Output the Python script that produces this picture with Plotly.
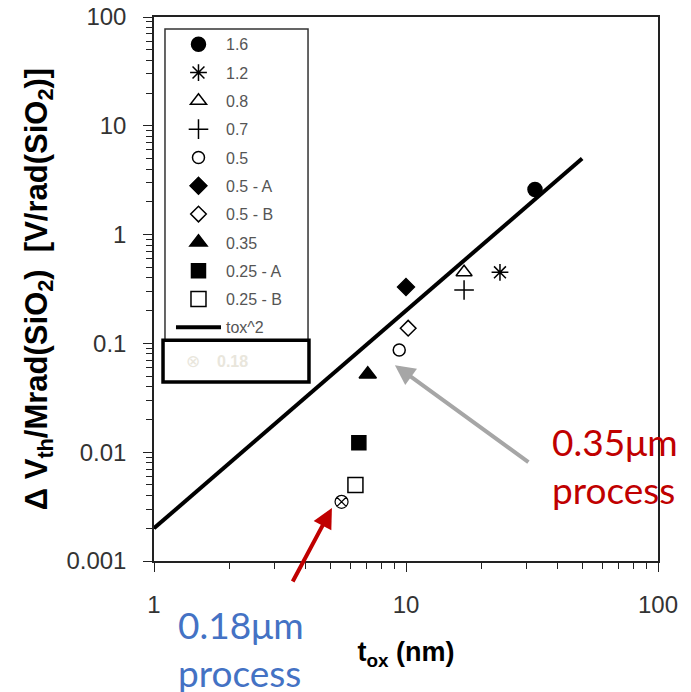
import plotly.graph_objects as go

# ---- data ----
series_names = ["1.6", "1.2", "0.8", "0.7", "0.5", "0.5 - A", "0.5 - B", "0.35", "0.25 - A", "0.25 - B"]
tox_nm = [32.5, 23.6, 17.0, 17.0, 9.4, 10.0, 10.2, 7.05, 6.5, 6.3]
dvth = [2.6, 0.45, 0.45, 0.31, 0.087, 0.33, 0.138, 0.052, 0.0122, 0.005]
symbols = ["circle", "asterisk-open", "triangle-up-open", "cross-thin-open", "circle-open",
           "diamond", "diamond-open", "triangle-up", "square", "square-open"]
sizes = [14, 14, 14, 14, 12, 13, 12, 15, 14, 15]

p018_tox = [5.55]
p018_dvth = [0.0035]

fit_tox = [1, 50]
fit_dvth = [0.002, 5.0]

x_ticks = [1, 10, 100]
y_ticks = [0.001, 0.01, 0.1, 1, 10, 100]
y_ticklabels = ["0.001", "0.01", "0.1", "1", "10", "100"]

fig = go.Figure()

for i, name in enumerate(series_names):
    fig.add_trace(go.Scatter(
        x=[tox_nm[i]], y=[dvth[i]], mode="markers", name=name,
        legendgroup=name,
        marker=dict(symbol=symbols[i], size=sizes[i], color="black",
                    line=dict(color="black", width=1.5)),
    ))

fig.add_trace(go.Scatter(
    x=fit_tox, y=fit_dvth, mode="lines", name="tox^2", legendgroup="fit",
    line=dict(color="black", width=4),
))

fig.add_trace(go.Scatter(
    x=p018_tox, y=p018_dvth, mode="markers", name="0.18", showlegend=False,
    marker=dict(symbol="circle-x-open", size=13, color="black", line=dict(color="black", width=1.2)),
))

axis_common = dict(
    type="log", showline=True, linecolor="#222", linewidth=1.5, mirror=True,
    ticks="outside", ticklen=9, tickwidth=1.2, tickcolor="#222",
    showgrid=False, zeroline=False, automargin=False, ticklabeloverflow="allow",
    tickfont=dict(family="Liberation Sans, Arial", size=24, color="#333"),
    minor=dict(ticks="outside", ticklen=6, tickwidth=1, tickcolor="#222", showgrid=False, dtick="D1"),
)

fig.update_xaxes(range=[0, 2], tickvals=x_ticks, ticktext=[str(v) for v in x_ticks],
                 ticklabelstandoff=12,
                 title=dict(text="<b>t<sub>ox</sub> (nm)</b>", font=dict(family="Liberation Sans, Arial", size=27, color="black"), standoff=26),
                 **axis_common)
fig.update_yaxes(range=[-3, 2], tickvals=y_ticks, ticktext=y_ticklabels,
                 ticklabelstandoff=12,
                 title=dict(text="<b>Δ V<sub>th</sub>/Mrad(SiO<sub>2</sub>)  [V/rad(SiO<sub>2</sub>)]</b>",
                            font=dict(family="Liberation Sans, Arial", size=31, color="black"), standoff=10),
                 **axis_common)

fig.update_layout(
    width=691, height=692,
    margin=dict(l=146, r=41, t=9, b=139),
    paper_bgcolor="white", plot_bgcolor="white",
    showlegend=True,
    legend=dict(
        x=0.0337, y=0.981, xanchor="left", yanchor="top",
        bgcolor="rgba(0,0,0,0)", borderwidth=0,
        font=dict(family="Liberation Sans, Arial", size=16, color="#555"),
        tracegroupgap=4.5, itemwidth=45, traceorder="grouped",
    ),
    shapes=[
        dict(type="rect", xref="paper", yref="paper",
             x0=0.0218, x1=0.3056, y0=0.406, y1=0.978,
             line=dict(color="#333", width=1.5), fillcolor="rgba(0,0,0,0)"),
        dict(type="rect", xref="paper", yref="paper",
             x0=0.0179, x1=0.3075, y0=0.329, y1=0.406,
             line=dict(color="black", width=3.5), fillcolor="white"),
    ],
    annotations=[
        dict(xref="paper", yref="paper", x=0.077, y=0.367, text="⊗", showarrow=False,
             font=dict(family="DejaVu Sans", size=17, color="#E9E6DC"), xanchor="center", yanchor="middle"),
        dict(xref="paper", yref="paper", x=0.121, y=0.367, text="<b>0.18</b>", showarrow=False,
             font=dict(family="Liberation Sans, Arial", size=16, color="#E9E6DC"), xanchor="left", yanchor="middle"),
        # gray arrow to 0.35um point
        dict(xref="paper", yref="paper", x=0.478, y=0.360, ax=135, ay=98, axref="pixel", ayref="pixel",
             text="", showarrow=True, arrowhead=2, arrowsize=1, arrowwidth=4, arrowcolor="#A6A6A6"),
        # red arrow to 0.18um point
        dict(xref="paper", yref="paper", x=0.353, y=0.0974, ax=-40, ay=75, axref="pixel", ayref="pixel",
             text="", showarrow=True, arrowhead=2, arrowsize=1, arrowwidth=4, arrowcolor="#C00000"),
        dict(xref="paper", yref="paper", x=0.786, y=0.175, xanchor="left", yanchor="middle",
             text="0.35μm<br>process", showarrow=False, align="left",
             font=dict(family="Lato", size=37, color="#C00000")),
        dict(xref="paper", yref="paper", x=0.0437, y=-0.160, xanchor="left", yanchor="middle",
             text="0.18μm<br>process", showarrow=False, align="left",
             font=dict(family="Lato", size=37, color="#4472C4")),
    ],
)

fig.write_html("out.html")
